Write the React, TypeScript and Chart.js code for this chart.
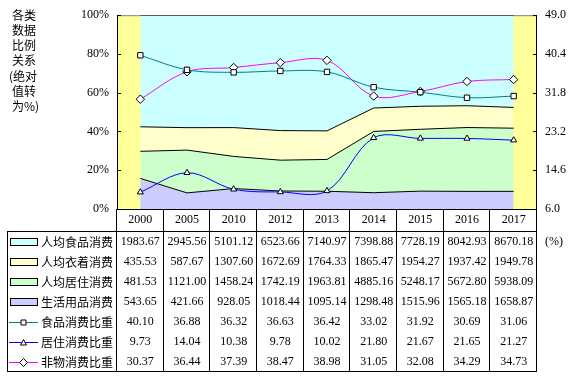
import { useEffect, useRef } from 'react';
import { Chart, registerables } from 'chart.js';
Chart.register(...registerables);

const years = ['2000', '2005', '2010', '2012', '2013', '2014', '2015', '2016', '2017'];
const foodSpend = [1983.67, 2945.56, 5101.12, 6523.66, 7140.97, 7398.88, 7728.19, 8042.93, 8670.18];
const clothSpend = [435.53, 587.67, 1307.6, 1672.69, 1764.33, 1865.47, 1954.27, 1937.42, 1949.78];
const houseSpend = [481.53, 1121.0, 1458.24, 1742.19, 1963.81, 4885.16, 5248.17, 5672.8, 5938.09];
const dailySpend = [543.65, 421.66, 928.05, 1018.44, 1095.14, 1298.48, 1515.96, 1565.18, 1658.87];
const foodShare = [40.1, 36.88, 36.32, 36.63, 36.42, 33.02, 31.92, 30.69, 31.06];
const houseShare = [9.73, 14.04, 10.38, 9.78, 10.02, 21.8, 21.67, 21.65, 21.27];
const nonMaterialShare = [30.37, 36.44, 37.39, 38.47, 38.98, 31.05, 32.08, 34.29, 34.73];
const leftTicks = [0, 20, 40, 60, 80, 100];
const rightTicks = [6.0, 14.6, 23.2, 31.8, 40.4, 49.0];
const titleLines = ['各类', '数据', '比例', '关系', '(绝对', '值转', '为%)'];
const unitLabel = '(%)';

const SERIF = '"Liberation Serif", "Times New Roman", serif';
const CJK = '"Noto Sans CJK SC", sans-serif';

type Row = { label: string; values: number[]; kind: 'area' | 'line'; color: string; marker?: string };
const rows: Row[] = [
  { label: '人均食品消费', values: foodSpend, kind: 'area', color: '#CCFFFF' },
  { label: '人均衣着消费', values: clothSpend, kind: 'area', color: '#FFFFCC' },
  { label: '人均居住消费', values: houseSpend, kind: 'area', color: '#CCFFCC' },
  { label: '生活用品消费', values: dailySpend, kind: 'area', color: '#CCCCFF' },
  { label: '食品消费比重', values: foodShare, kind: 'line', color: '#008080', marker: 'rect' },
  { label: '居住消费比重', values: houseShare, kind: 'line', color: '#0000FF', marker: 'triangle' },
  { label: '非物消费比重', values: nonMaterialShare, kind: 'line', color: '#FF00FF', marker: 'rectRot' },
];

function drawMarker(ctx: CanvasRenderingContext2D, type: string, x: number, y: number) {
  ctx.save();
  ctx.fillStyle = '#fff';
  ctx.strokeStyle = '#000';
  ctx.lineWidth = 1;
  ctx.beginPath();
  if (type === 'rect') {
    ctx.rect(x - 2.5, y - 2.5, 5, 5);
  } else if (type === 'triangle') {
    ctx.moveTo(x, y - 3);
    ctx.lineTo(x + 3, y + 2.5);
    ctx.lineTo(x - 3, y + 2.5);
    ctx.closePath();
  } else {
    ctx.moveTo(x, y - 4);
    ctx.lineTo(x + 4, y);
    ctx.lineTo(x, y + 4);
    ctx.lineTo(x - 4, y);
    ctx.closePath();
  }
  ctx.fill();
  ctx.stroke();
  ctx.restore();
}

const tablePlugin = {
  id: 'tablePlugin',
  beforeDatasetsDraw(chart: any) {
    const { ctx, chartArea: a } = chart;
    ctx.save();
    ctx.fillStyle = '#FFFF99';
    ctx.fillRect(a.left, a.top, a.right - a.left, a.bottom - a.top);
    ctx.strokeStyle = '#808080';
    ctx.lineWidth = 1;
    ctx.beginPath();
    ctx.moveTo(a.left, a.top + 0.5);
    ctx.lineTo(a.right, a.top + 0.5);
    ctx.stroke();
    ctx.restore();
  },
  afterDatasetsDraw(chart: any) {
    const { ctx, chartArea: a } = chart;
    const yS = chart.scales.y;
    const y1S = chart.scales.y1;
    ctx.save();
    ctx.strokeStyle = '#000';
    ctx.lineWidth = 1;
    ctx.beginPath();
    ctx.moveTo(a.left + 0.5, a.top);
    ctx.lineTo(a.left + 0.5, a.bottom);
    ctx.moveTo(a.right - 0.5, a.top);
    ctx.lineTo(a.right - 0.5, a.bottom);
    leftTicks.forEach((t) => {
      const py = Math.round(yS.getPixelForValue(t)) + 0.5;
      ctx.moveTo(a.left, py);
      ctx.lineTo(a.left + 4, py);
    });
    rightTicks.forEach((t) => {
      const py = Math.round(y1S.getPixelForValue(t)) + 0.5;
      ctx.moveTo(a.right - 4, py);
      ctx.lineTo(a.right, py);
    });
    ctx.stroke();
    ctx.restore();
  },
  afterDraw(chart: any) {
    const { ctx, chartArea: a } = chart;
    const xS = chart.scales.x;
    const half = (xS.getPixelForValue(1) - xS.getPixelForValue(0)) / 2;
    const headerTop = a.bottom;
    const headerBottom = headerTop + 22;
    const rowH = 20;
    const tableBottom = headerBottom + rows.length * rowH;
    const tableLeft = 7;
    ctx.save();
    ctx.strokeStyle = '#000';
    ctx.lineWidth = 1;
    ctx.beginPath();
    // plot bottom / header top
    ctx.moveTo(a.left, headerTop + 0.5);
    ctx.lineTo(a.right, headerTop + 0.5);
    ctx.moveTo(tableLeft, headerBottom + 0.5);
    ctx.lineTo(a.right, headerBottom + 0.5);
    ctx.moveTo(tableLeft, tableBottom + 0.5);
    ctx.lineTo(a.right, tableBottom + 0.5);
    ctx.moveTo(tableLeft + 0.5, headerBottom);
    ctx.lineTo(tableLeft + 0.5, tableBottom);
    for (let i = 0; i <= years.length; i++) {
      const bx = i < years.length ? xS.getPixelForValue(i) - half : xS.getPixelForValue(years.length - 1) + half;
      const px = Math.round(bx) - 0.5;
      ctx.moveTo(px, headerTop);
      ctx.lineTo(px, tableBottom + 1);
    }
    ctx.stroke();

    ctx.fillStyle = '#000';
    ctx.textAlign = 'center';
    ctx.textBaseline = 'middle';
    ctx.font = '12px ' + SERIF;
    years.forEach((yr, i) => {
      ctx.fillText(yr, xS.getPixelForValue(i), headerTop + 11);
    });
    rows.forEach((r, ri) => {
      const cy = headerBottom + rowH * ri + 11;
      ctx.font = '12px ' + SERIF;
      ctx.textAlign = 'center';
      ctx.fillStyle = '#000';
      r.values.forEach((v, i) => {
        ctx.fillText(v.toFixed(2), xS.getPixelForValue(i), cy);
      });
      // key
      if (r.kind === 'area') {
        ctx.fillStyle = r.color;
        ctx.fillRect(11, cy - 3, 26, 6);
        ctx.strokeStyle = '#000';
        ctx.strokeRect(10.5, cy - 3.5, 27, 7);
      } else {
        ctx.strokeStyle = r.color;
        ctx.beginPath();
        ctx.moveTo(9, Math.round(cy) + 0.5);
        ctx.lineTo(38, Math.round(cy) + 0.5);
        ctx.stroke();
        drawMarker(ctx, r.marker!, 23.5, Math.round(cy) + 0.5);
      }
      ctx.fillStyle = '#000';
      ctx.textAlign = 'left';
      ctx.font = '12px ' + CJK;
      ctx.fillText(r.label, 41, cy);
    });
    ctx.font = '12px ' + SERIF;
    ctx.textAlign = 'left';
    ctx.fillText(unitLabel, 545, headerBottom + 11);

    ctx.font = '12px ' + CJK;
    ctx.textAlign = 'left';
    titleLines.forEach((t, i) => {
      ctx.fillText(t, t.startsWith('(') ? 9 : 12, 15 + i * 15.3);
    });
    ctx.restore();
  },
};

export default function App() {
  const ref = useRef<HTMLCanvasElement>(null);
  useEffect(() => {
    const totals = years.map((_, i) => foodSpend[i] + clothSpend[i] + houseSpend[i] + dailySpend[i]);
    const pct = (arr: number[]) => arr.map((v, i) => (v / totals[i]) * 100);
    const area = (label: string, data: number[], color: string, fill: any) => ({
      label,
      data,
      yAxisID: 'y',
      fill,
      backgroundColor: color,
      borderColor: '#000',
      borderWidth: 1,
      pointRadius: 0,
      tension: 0,
      order: 1,
    });
    const line = (label: string, data: number[], color: string, style: string, radius: number) => ({
      label,
      data,
      yAxisID: 'y1',
      fill: false,
      borderColor: color,
      borderWidth: 1,
      backgroundColor: '#fff',
      pointStyle: style,
      pointRadius: radius,
      pointBackgroundColor: '#fff',
      pointBorderColor: '#000',
      pointBorderWidth: 1,
      tension: 0.35,
      order: 0,
    });
    const tickFont = { family: SERIF, size: 12 };
    const chart = new Chart(ref.current!, {
      type: 'line',
      data: {
        labels: years,
        datasets: [
          area('生活用品消费', pct(dailySpend), '#CCCCFF', 'origin'),
          area('人均居住消费', pct(houseSpend), '#CCFFCC', '-1'),
          area('人均衣着消费', pct(clothSpend), '#FFFFCC', '-1'),
          area('人均食品消费', pct(foodSpend), '#CCFFFF', '-1'),
          line('居住消费比重', houseShare, '#0000FF', 'triangle', 3.5),
          line('食品消费比重', foodShare, '#008080', 'rect', 3.8),
          line('非物消费比重', nonMaterialShare, '#FF00FF', 'rectRot', 4.2),
        ] as any,
      },
      options: {
        animation: false,
        responsive: false,
        maintainAspectRatio: false,
        layout: { padding: { left: 0, right: 0, top: 15, bottom: 167 } },
        plugins: { legend: { display: false }, tooltip: { enabled: false } },
        scales: {
          x: { display: false, offset: true },
          y: {
            stacked: true,
            position: 'left',
            min: 0,
            max: 100,
            afterBuildTicks: (s: any) => {
              s.ticks = leftTicks.map((v) => ({ value: v }));
            },
            afterFit: (s: any) => {
              s.width = 117;
            },
            grid: { display: false, drawTicks: false },
            border: { display: false },
            ticks: { padding: 8, color: '#000', font: tickFont, callback: (v: any) => v + '%' },
          },
          y1: {
            position: 'right',
            min: 6,
            max: 49,
            afterBuildTicks: (s: any) => {
              s.ticks = rightTicks.map((v) => ({ value: v }));
            },
            afterFit: (s: any) => {
              s.width = 39;
            },
            grid: { display: false, drawTicks: false },
            border: { display: false },
            ticks: { padding: 8, color: '#000', font: tickFont, callback: (v: any) => Number(v).toFixed(1) },
          },
        },
      } as any,
      plugins: [tablePlugin],
    });
    return () => chart.destroy();
  }, []);
  return (
    <div style={{ position: 'absolute', left: 0, top: 0, width: 576, height: 376, background: '#fff' }}>
      <canvas ref={ref} width={576} height={376} style={{ width: 576, height: 376, display: 'block' }} />
    </div>
  );
}
